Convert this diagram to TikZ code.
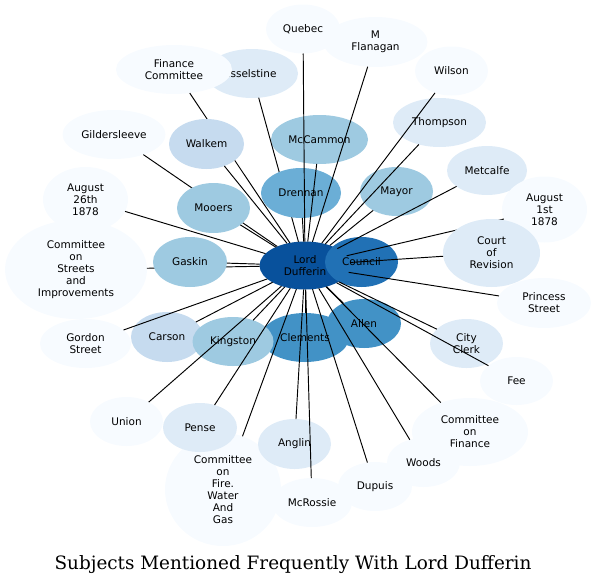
\documentclass[tikz,border=0pt]{standalone}
\usepackage{fontspec}
\setmainfont{DejaVu Sans}
\newfontfamily\titlefont{DejaVu Serif}
\usetikzlibrary{shapes.geometric}
\definecolor{bA}{HTML}{F7FBFF}
\definecolor{bB}{HTML}{DEEBF7}
\definecolor{bC}{HTML}{C6DBEF}
\definecolor{bD}{HTML}{9ECAE1}
\definecolor{bE}{HTML}{6BAED6}
\definecolor{bF}{HTML}{4292C6}
\definecolor{bG}{HTML}{2171B5}
\definecolor{bH}{HTML}{08519C}
\tikzset{
  nd/.style={ellipse, draw=none, inner sep=0pt, outer sep=0pt, align=center,
    font=\fontsize{10.5}{12}\selectfont, text=black},
  ed/.style={draw=black, line width=0.95pt},
}
\begin{document}
\begin{tikzpicture}[x=1pt, y=-1pt]
\useasboundingbox (0,0) rectangle (596,584);
% ---- layer 1 nodes
\node[nd, fill=bA, minimum width=85pt, minimum height=65pt] (aug26) at (85.5,199.5) {August\\26th\\1878};
\node[nd, fill=bA, minimum width=142pt, minimum height=99pt] (streets) at (76,269.5) {Committee\\on\\Streets\\and\\Improvements};
\node[nd, fill=bB, minimum width=92pt, minimum height=49pt] (issel) at (252,73.5) {Isselstine};
\node[nd, fill=bA, minimum width=116pt, minimum height=49pt] (fincom) at (174,69.5) {Finance\\Committee};
\node[nd, fill=bA, minimum width=74pt, minimum height=49pt] (quebec) at (303,29) {Quebec};
\node[nd, fill=bA, minimum width=104pt, minimum height=50pt] (mflan) at (375.5,42) {M\\Flanagan};
\node[nd, fill=bA, minimum width=73pt, minimum height=49pt] (wilson) at (451.5,71) {Wilson};
\node[nd, fill=bB, minimum width=93pt, minimum height=49pt] (thompson) at (439.5,122.5) {Thompson};
\node[nd, fill=bD, minimum width=97pt, minimum height=49pt] (mccammon) at (319.5,139.5) {McCammon};
\node[nd, fill=bA, minimum width=103pt, minimum height=49pt] (gilder) at (114,134.5) {Gildersleeve};
\node[nd, fill=bB, minimum width=80pt, minimum height=49pt] (metcalfe) at (487,170.5) {Metcalfe};
\node[nd, fill=bD, minimum width=73pt, minimum height=49pt] (mayor) at (396.5,191.5) {Mayor};
\node[nd, fill=bA, minimum width=85pt, minimum height=66pt] (aug1) at (544.5,209.5) {August\\1st\\1878};
\node[nd, fill=bA, minimum width=94pt, minimum height=50pt] (princess) at (544,303) {Princess\\Street};
\node[nd, fill=bA, minimum width=91pt, minimum height=49pt] (gordon) at (85.5,343.5) {Gordon\\Street};
\node[nd, fill=bC, minimum width=72pt, minimum height=50pt] (carson) at (167,337) {Carson};
\node[nd, fill=bF, minimum width=88pt, minimum height=49pt] (clements) at (305,337.5) {Clements};
\node[nd, fill=bD, minimum width=81pt, minimum height=49pt] (kingston) at (233,341.5) {Kingston};
\node[nd, fill=bF, minimum width=74pt, minimum height=49pt] (allen) at (364,323.5) {Allen};
\node[nd, fill=bB, minimum width=73pt, minimum height=49pt] (cityclerk) at (466.5,343.5) {City\\Clerk};
\node[nd, fill=bA, minimum width=73pt, minimum height=48pt] (fee) at (516.5,381) {Fee};
\node[nd, fill=bA, minimum width=73pt, minimum height=49pt] (union) at (126.5,421.5) {Union};
\node[nd, fill=bA, minimum width=116pt, minimum height=113pt] (firecom) at (223,489.5) {Committee\\on\\Fire.\\Water\\And\\Gas};
\node[nd, fill=bB, minimum width=74pt, minimum height=49pt] (pense) at (200,427.5) {Pense};
\node[nd, fill=bB, minimum width=73pt, minimum height=50pt] (anglin) at (294.5,444) {Anglin};
\node[nd, fill=bA, minimum width=80pt, minimum height=49pt] (mcrossie) at (312,502.5) {McRossie};
\node[nd, fill=bA, minimum width=74pt, minimum height=49pt] (dupuis) at (375,486.5) {Dupuis};
\node[nd, fill=bA, minimum width=116pt, minimum height=68pt] (fincom2) at (470,432) {Committee\\on\\Finance};
\node[nd, fill=bA, minimum width=73pt, minimum height=49pt] (woods) at (423.5,462.5) {Woods};
\node[nd, fill=bH, minimum width=91pt, minimum height=48pt] (ld) at (305,265.5) {Lord\\Dufferin};
\node[nd, fill=bG, minimum width=73pt, minimum height=50pt] (council) at (361.5,262) {Council};
% ---- layer 2 edges (hidden under later nodes)
\draw[ed] (ld) -- (aug1);
\draw[ed] (ld) -- (streets);
\draw[ed] (ld) -- (gilder);
\draw[ed] (ld) -- (fincom);
\draw[ed] (ld) -- (issel);
% ---- layer 3 nodes
\node[nd, fill=bB, minimum width=97pt, minimum height=68pt] (court) at (491.5,253) {Court\\of\\Revision};
\node[nd, fill=bD, minimum width=74pt, minimum height=50pt] (gaskin) at (190,262) {Gaskin};
\node[nd, fill=bD, minimum width=73pt, minimum height=50pt] (mooers) at (213.5,208) {Mooers};
\node[nd, fill=bC, minimum width=75pt, minimum height=50pt] (walkem) at (206.5,144) {Walkem};
\node[nd, fill=bE, minimum width=80pt, minimum height=50pt] (drennan) at (301,193) {Drennan};
% ---- layer 4 edges
\foreach \t in {court,gaskin,mooers,walkem,drennan,quebec,mflan,wilson,thompson,
  mccammon,metcalfe,mayor,aug26,princess,gordon,carson,kingston,clements,allen,
  cityclerk,fee,union,pense,anglin,firecom,mcrossie,dupuis,woods,fincom2}
  {\draw[ed] (ld) -- (\t);}
% ---- title
\node[anchor=base, font=\titlefont\fontsize{18.4}{22}\selectfont] (title) at (293,569)
  {Subjects Mentioned Frequently With Lord Dufferin};
\end{tikzpicture}
\end{document}
